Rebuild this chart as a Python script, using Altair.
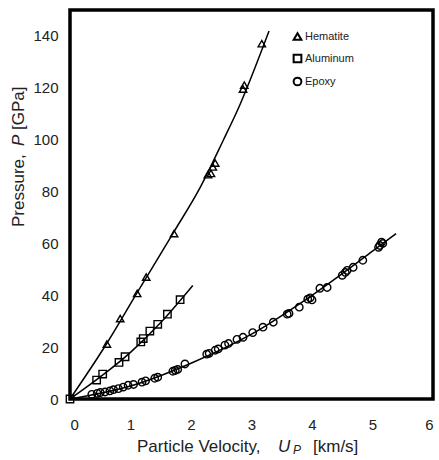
import altair as alt
import pandas as pd

# ---- data ----
hem_u = [0.61, 0.83, 1.11, 1.26, 1.72, 2.28, 2.33, 2.36, 2.40, 2.86, 2.88, 3.17]
hem_p = [21.2, 31.0, 40.7, 47.0, 63.8, 86.5, 87.0, 89.5, 91.0, 119.5, 121.0, 137.0]

al_u = [0.0, 0.44, 0.54, 0.81, 0.91, 1.17, 1.21, 1.32, 1.45, 1.61, 1.82]
al_p = [0.0, 7.3, 9.6, 14.1, 16.3, 22.0, 23.3, 26.2, 28.8, 32.7, 38.3]

ep_u = [0.36, 0.45, 0.50, 0.58, 0.66, 0.72, 0.80, 0.88, 0.96, 1.05, 1.19, 1.25,
        1.40, 1.45, 1.70, 1.74, 1.78, 1.90, 2.26, 2.30, 2.40, 2.45, 2.56, 2.62,
        2.76, 2.86, 3.02, 3.19, 3.36, 3.59, 3.62, 3.79, 3.93, 3.97, 4.00, 4.13,
        4.25, 4.50, 4.55, 4.58, 4.68, 4.84, 5.10, 5.12, 5.15, 5.17]
ep_p = [1.8, 2.2, 2.5, 2.7, 3.1, 3.6, 4.0, 4.6, 5.3, 5.6, 6.5, 7.0,
        8.0, 8.4, 10.7, 11.0, 11.4, 13.5, 17.3, 17.6, 18.8, 19.3, 20.8, 21.4,
        23.0, 23.8, 25.6, 27.7, 29.6, 32.7, 33.0, 35.4, 38.5, 39.0, 38.2, 42.7,
        43.0, 47.7, 48.8, 49.6, 50.8, 53.5, 58.5, 59.2, 60.5, 60.0]

# fitted curves as traced on the picture
hem_line_u = [0.0, 0.61, 1.11, 1.70, 2.15, 2.53, 2.80, 3.29]
hem_line_p = [0.0, 21.5, 41.0, 63.8, 81.5, 99.6, 113.0, 141.9]
al_line_u = [0.0, 0.5, 1.0, 1.5, 2.03]
al_line_p = [0.0, 8.5, 18.0, 29.5, 43.8]
ep_line_u = [0.0, 1.0, 2.0, 3.0, 4.0, 5.0, 5.39]
ep_line_p = [0.0, 5.0, 13.8, 25.0, 40.0, 57.0, 63.8]

# plot-frame corners (data units)
frame_u = [0, 0, 6, 6, 0]
frame_p = [0, 150, 150, 0, 0]

series = ["Hematite", "Aluminum", "Epoxy"]
shapes = ["triangle-up", "square", "circle"]
x_ticks = [0, 1, 2, 3, 4, 5, 6]
y_ticks = [0, 20, 40, 60, 80, 100, 120, 140]

pts = pd.concat([
    pd.DataFrame({"u": hem_u, "p": hem_p, "mat": "Hematite"}),
    pd.DataFrame({"u": al_u, "p": al_p, "mat": "Aluminum"}),
    pd.DataFrame({"u": ep_u, "p": ep_p, "mat": "Epoxy"}),
])
lines = pd.concat([
    pd.DataFrame({"u": hem_line_u, "p": hem_line_p, "mat": "Hematite"}),
    pd.DataFrame({"u": al_line_u, "p": al_line_p, "mat": "Aluminum"}),
    pd.DataFrame({"u": ep_line_u, "p": ep_line_p, "mat": "Epoxy"}),
])
frame_df = pd.DataFrame({"u": frame_u, "p": frame_p, "o": list(range(len(frame_u)))})

FONT = "Liberation Sans"
W, H = 363, 389
FW = 3.5

xs = alt.Scale(domain=[0, 6], nice=False)
ys = alt.Scale(domain=[0, 150], nice=False)

x_axis = alt.Axis(values=x_ticks, format="d", title=None, grid=False, ticks=False, domain=False,
                  labelFontSize=15, labelFont=FONT, labelColor="#222", labelPadding=18)
y_axis = alt.Axis(values=y_ticks, format="d", title=None, grid=False, ticks=False, domain=False,
                  labelFontSize=15, labelFont=FONT, labelColor="#222", labelPadding=12)

frame = alt.Chart(frame_df).mark_line(color="black", strokeWidth=FW, strokeJoin="miter",
                                      strokeCap="square", clip=False).encode(
    x=alt.X("u:Q", scale=xs, axis=x_axis),
    y=alt.Y("p:Q", scale=ys, axis=y_axis),
    order="o:Q",
)

line_layer = alt.Chart(lines).mark_line(color="black", strokeWidth=1.5, interpolate="monotone").encode(
    x=alt.X("u:Q", scale=xs, axis=x_axis),
    y=alt.Y("p:Q", scale=ys, axis=y_axis),
    detail="mat:N",
)

point_layer = alt.Chart(pts).mark_point(filled=False, color="black", strokeWidth=1.4, size=55, opacity=1).encode(
    x=alt.X("u:Q", scale=xs),
    y=alt.Y("p:Q", scale=ys),
    shape=alt.Shape("mat:N", scale=alt.Scale(domain=series, range=shapes),
                    legend=alt.Legend(title=None, orient="none", legendX=222, legendY=21,
                                      labelFont=FONT, labelFontSize=11, labelColor="#222",
                                      symbolSize=60, symbolStrokeWidth=2,
                                      symbolStrokeColor="black", symbolFillColor="transparent",
                                      rowPadding=6, labelOffset=2, padding=0)),
)

def seg(text, x, y, angle=0, italic=False, size=17):
    d = pd.DataFrame({"t": [text]})
    return alt.Chart(d).mark_text(
        align="left", baseline="alphabetic", font=FONT, fontSize=size,
        fontStyle="italic" if italic else "normal", angle=angle, color="#222"
    ).encode(text="t:N", x=alt.value(x), y=alt.value(y))

xt = [
    seg("Particle Velocity,", 67, 442),
    seg("U", 208, 442, italic=True),
    seg("P", 223, 444, italic=True, size=12),
    seg("[km/s]", 243, 442),
]
yt = [
    seg("Pressure,", -46, 217, angle=270),
    seg("P", -46, 136, angle=270, italic=True),
    seg("[GPa]", -46, 120, angle=270),
]

chart = alt.layer(frame, line_layer, point_layer, *xt, *yt).properties(
    width=W, height=H,
    autosize=alt.AutoSizeParams(type="none"),
    padding={"left": 70, "top": 10, "right": 6, "bottom": 61},
    background="white",
).configure_view(stroke=None)

chart.save("out.html", embed_options={"renderer": "svg", "actions": False})
